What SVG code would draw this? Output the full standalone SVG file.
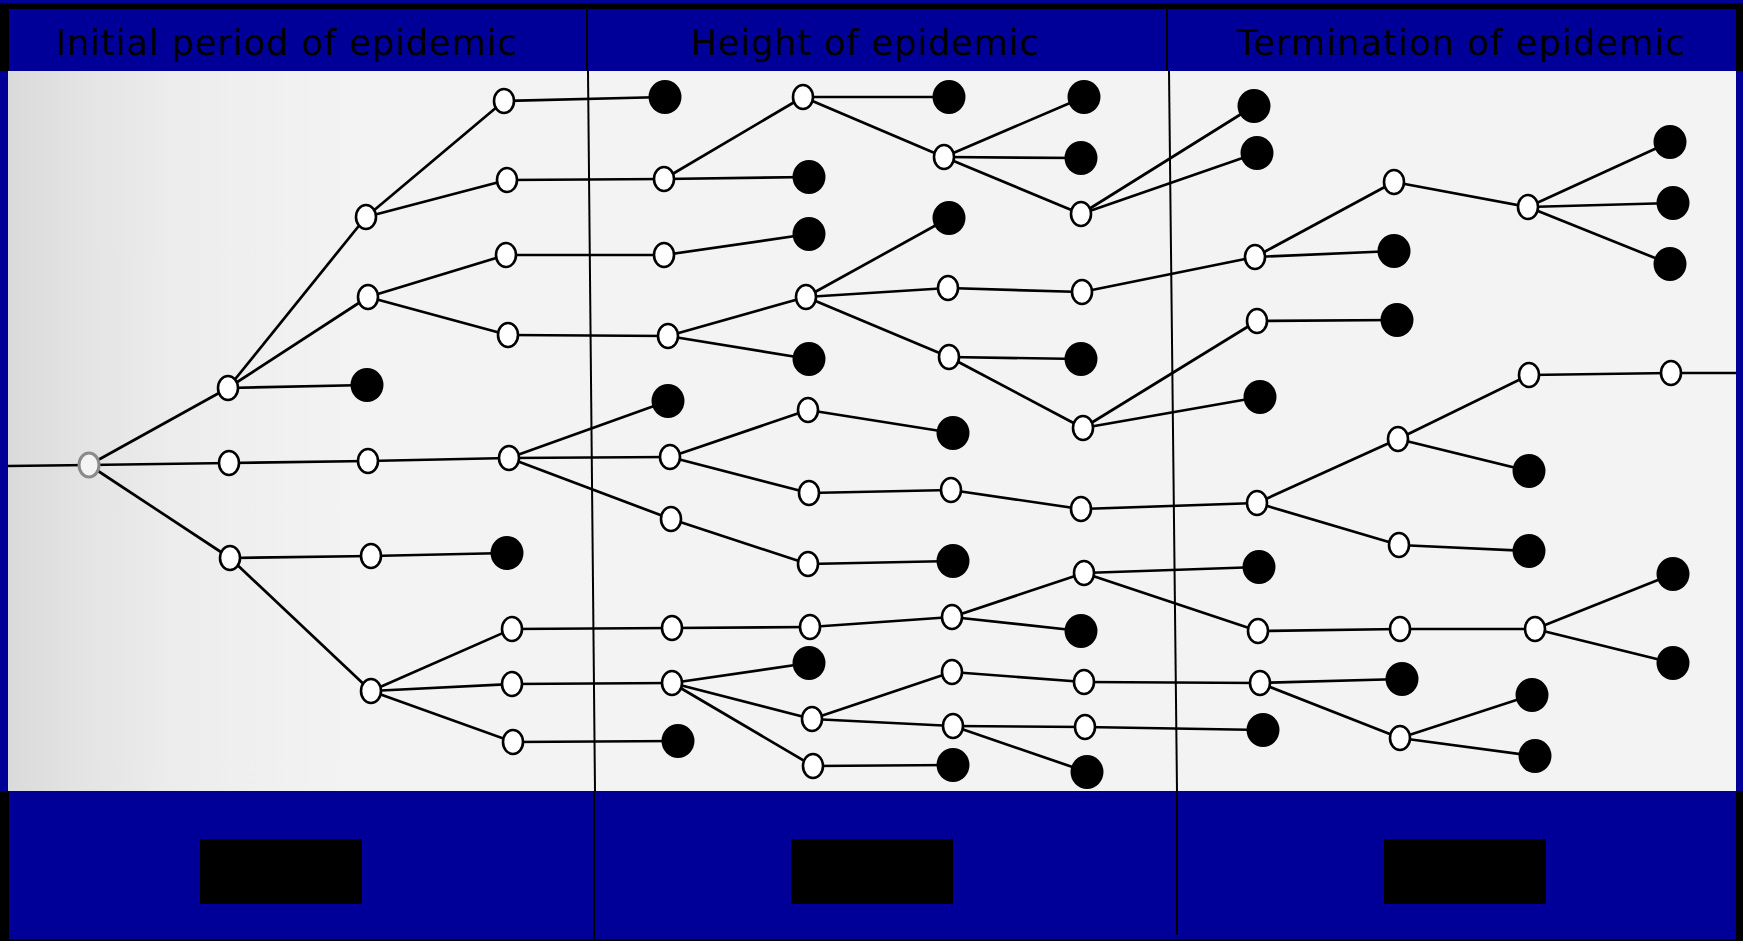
<svg xmlns="http://www.w3.org/2000/svg" width="1743" height="941" viewBox="0 0 1743 941">
<defs>
<linearGradient id="paper" x1="0" y1="0" x2="1" y2="0">
<stop offset="0" stop-color="#dadada"/>
<stop offset="0.04" stop-color="#e3e3e3"/>
<stop offset="0.1" stop-color="#ededed"/>
<stop offset="0.2" stop-color="#f3f3f3"/>
<stop offset="1" stop-color="#f3f3f3"/>
</linearGradient>
<style>
.o{fill:#fff;stroke:#000;stroke-width:2.6}
.r{fill:#f4f4f4;stroke:#8a8a8a;stroke-width:3}
.f{fill:#000}
.c line{stroke:#000;stroke-width:2.7}
.div{stroke:#000;stroke-width:2}
.t{font-family:"DejaVu Sans",Verdana,sans-serif;font-size:35px;fill:#000}
</style>
</defs>
<rect x="0" y="0" width="1743" height="941" fill="#000"/>
<rect x="0" y="0" width="1743" height="3" fill="#000099"/>
<rect x="9" y="9" width="1727" height="62" fill="#000099"/>
<rect x="0" y="71" width="8" height="720" fill="#000099"/>
<rect x="1736" y="71" width="7" height="720" fill="#000099"/>
<rect x="8" y="71" width="1728" height="720" fill="url(#paper)"/>
<rect x="9" y="791" width="1727" height="148" fill="#000099"/>
<g id="header-dividers">
<line class="div" x1="587" y1="9" x2="587" y2="71"/>
<line class="div" x1="1167" y1="9" x2="1167" y2="71"/>
</g>
<g id="bottom-dividers">
<line class="div" x1="594" y1="791" x2="594" y2="939"/>
<line class="div" x1="1177" y1="791" x2="1177" y2="935"/>
</g>
<g id="content-dividers">
<line class="div" x1="588" y1="71" x2="595" y2="791"/>
<line class="div" x1="1169" y1="71" x2="1177" y2="791"/>
</g>
<g id="titles">
<text class="t" x="56" y="55" textLength="461">Initial period of epidemic</text>
<text class="t" x="691" y="55" textLength="348">Height of epidemic</text>
<text class="t" x="1237" y="55" textLength="448">Termination of epidemic</text>
</g>
<g id="bottom-boxes">
<rect x="200" y="839" width="162" height="65" fill="#000"/>
<rect x="791" y="839" width="162" height="65" fill="#000"/>
<rect x="1384" y="839" width="162" height="65" fill="#000"/>
</g>
<g id="connectors" class="c">
<line x1="8" y1="466" x2="89" y2="465"/>
<line x1="89" y1="465" x2="228" y2="388"/>
<line x1="89" y1="465" x2="229" y2="463"/>
<line x1="89" y1="465" x2="230" y2="558"/>
<line x1="228" y1="388" x2="366" y2="217"/>
<line x1="228" y1="388" x2="368" y2="297"/>
<line x1="228" y1="388" x2="367" y2="385"/>
<line x1="366" y1="217" x2="504" y2="101"/>
<line x1="366" y1="217" x2="507" y2="180"/>
<line x1="368" y1="297" x2="506" y2="255"/>
<line x1="368" y1="297" x2="508" y2="335"/>
<line x1="229" y1="463" x2="368" y2="461"/>
<line x1="368" y1="461" x2="509" y2="458"/>
<line x1="230" y1="558" x2="371" y2="556"/>
<line x1="371" y1="556" x2="507" y2="553"/>
<line x1="230" y1="558" x2="371" y2="691"/>
<line x1="371" y1="691" x2="512" y2="629"/>
<line x1="371" y1="691" x2="512" y2="684"/>
<line x1="371" y1="691" x2="513" y2="742"/>
<line x1="504" y1="101" x2="665" y2="97"/>
<line x1="507" y1="180" x2="664" y2="179"/>
<line x1="506" y1="255" x2="664" y2="255"/>
<line x1="508" y1="335" x2="668" y2="336"/>
<line x1="509" y1="458" x2="668" y2="401"/>
<line x1="509" y1="458" x2="670" y2="457"/>
<line x1="509" y1="458" x2="671" y2="519"/>
<line x1="512" y1="629" x2="672" y2="628"/>
<line x1="512" y1="684" x2="672" y2="683"/>
<line x1="513" y1="742" x2="678" y2="741"/>
<line x1="664" y1="179" x2="803" y2="97"/>
<line x1="664" y1="179" x2="809" y2="177"/>
<line x1="664" y1="255" x2="809" y2="234"/>
<line x1="668" y1="336" x2="806" y2="297"/>
<line x1="668" y1="336" x2="809" y2="359"/>
<line x1="670" y1="457" x2="808" y2="410"/>
<line x1="670" y1="457" x2="809" y2="493"/>
<line x1="671" y1="519" x2="808" y2="564"/>
<line x1="672" y1="628" x2="810" y2="627"/>
<line x1="672" y1="683" x2="809" y2="663"/>
<line x1="672" y1="683" x2="812" y2="719"/>
<line x1="672" y1="683" x2="813" y2="766"/>
<line x1="803" y1="97" x2="949" y2="97"/>
<line x1="803" y1="97" x2="944" y2="157"/>
<line x1="806" y1="297" x2="949" y2="218"/>
<line x1="806" y1="297" x2="948" y2="288"/>
<line x1="806" y1="297" x2="949" y2="357"/>
<line x1="808" y1="410" x2="953" y2="433"/>
<line x1="809" y1="493" x2="951" y2="490"/>
<line x1="808" y1="564" x2="953" y2="561"/>
<line x1="810" y1="627" x2="952" y2="617"/>
<line x1="812" y1="719" x2="952" y2="672"/>
<line x1="812" y1="719" x2="953" y2="726"/>
<line x1="813" y1="766" x2="953" y2="765"/>
<line x1="944" y1="157" x2="1084" y2="97"/>
<line x1="944" y1="157" x2="1081" y2="158"/>
<line x1="944" y1="157" x2="1081" y2="214"/>
<line x1="948" y1="288" x2="1082" y2="292"/>
<line x1="949" y1="357" x2="1081" y2="359"/>
<line x1="949" y1="357" x2="1083" y2="428"/>
<line x1="951" y1="490" x2="1081" y2="509"/>
<line x1="952" y1="617" x2="1084" y2="573"/>
<line x1="952" y1="617" x2="1081" y2="631"/>
<line x1="952" y1="672" x2="1084" y2="682"/>
<line x1="953" y1="726" x2="1085" y2="727"/>
<line x1="953" y1="726" x2="1087" y2="772"/>
<line x1="1081" y1="214" x2="1254" y2="106"/>
<line x1="1081" y1="214" x2="1257" y2="153"/>
<line x1="1082" y1="292" x2="1255" y2="257"/>
<line x1="1083" y1="428" x2="1257" y2="321"/>
<line x1="1083" y1="428" x2="1260" y2="397"/>
<line x1="1081" y1="509" x2="1257" y2="503"/>
<line x1="1084" y1="573" x2="1259" y2="567"/>
<line x1="1084" y1="573" x2="1258" y2="631"/>
<line x1="1084" y1="682" x2="1260" y2="683"/>
<line x1="1085" y1="727" x2="1263" y2="730"/>
<line x1="1255" y1="257" x2="1394" y2="182"/>
<line x1="1255" y1="257" x2="1394" y2="251"/>
<line x1="1257" y1="321" x2="1397" y2="320"/>
<line x1="1257" y1="503" x2="1398" y2="439"/>
<line x1="1257" y1="503" x2="1399" y2="545"/>
<line x1="1258" y1="631" x2="1400" y2="629"/>
<line x1="1260" y1="683" x2="1402" y2="679"/>
<line x1="1260" y1="683" x2="1400" y2="738"/>
<line x1="1394" y1="182" x2="1528" y2="207"/>
<line x1="1398" y1="439" x2="1529" y2="375"/>
<line x1="1398" y1="439" x2="1529" y2="471"/>
<line x1="1399" y1="545" x2="1529" y2="551"/>
<line x1="1400" y1="629" x2="1535" y2="629"/>
<line x1="1400" y1="738" x2="1532" y2="695"/>
<line x1="1400" y1="738" x2="1535" y2="756"/>
<line x1="1528" y1="207" x2="1670" y2="142"/>
<line x1="1528" y1="207" x2="1673" y2="203"/>
<line x1="1528" y1="207" x2="1670" y2="264"/>
<line x1="1529" y1="375" x2="1671" y2="373"/>
<line x1="1671" y1="373" x2="1736" y2="373"/>
<line x1="1535" y1="629" x2="1673" y2="574"/>
<line x1="1535" y1="629" x2="1673" y2="663"/>
</g>
<g id="n-root"><ellipse class="r" cx="89" cy="465" rx="10" ry="12"/></g>
<g id="n-B1"><ellipse class="o" cx="366" cy="217" rx="10" ry="12"/></g>
<g id="n-B2"><ellipse class="o" cx="368" cy="297" rx="10" ry="12"/></g>
<g id="n-B3"><ellipse class="o" cx="228" cy="388" rx="10" ry="12"/></g>
<g id="n-f1"><ellipse class="f" cx="367" cy="385" rx="16.5" ry="17"/></g>
<g id="n-C2"><ellipse class="o" cx="229" cy="463" rx="10" ry="12"/></g>
<g id="n-C3"><ellipse class="o" cx="368" cy="461" rx="10" ry="12"/></g>
<g id="n-C4"><ellipse class="o" cx="509" cy="458" rx="10" ry="12"/></g>
<g id="n-D1"><ellipse class="o" cx="230" cy="558" rx="10" ry="12"/></g>
<g id="n-D2"><ellipse class="o" cx="371" cy="556" rx="10" ry="12"/></g>
<g id="n-f2"><ellipse class="f" cx="507" cy="553" rx="16.5" ry="17"/></g>
<g id="n-E"><ellipse class="o" cx="371" cy="691" rx="10" ry="12"/></g>
<g id="n-E1"><ellipse class="o" cx="512" cy="629" rx="10" ry="12"/></g>
<g id="n-E2"><ellipse class="o" cx="512" cy="684" rx="10" ry="12"/></g>
<g id="n-E3"><ellipse class="o" cx="513" cy="742" rx="10" ry="12"/></g>
<g id="n-A1"><ellipse class="o" cx="504" cy="101" rx="10" ry="12"/></g>
<g id="n-A2"><ellipse class="o" cx="507" cy="180" rx="10" ry="12"/></g>
<g id="n-A3"><ellipse class="o" cx="506" cy="255" rx="10" ry="12"/></g>
<g id="n-A4"><ellipse class="o" cx="508" cy="335" rx="10" ry="12"/></g>
<g id="n-f3"><ellipse class="f" cx="665" cy="97" rx="16.5" ry="17"/></g>
<g id="n-G1"><ellipse class="o" cx="664" cy="179" rx="10" ry="12"/></g>
<g id="n-G2"><ellipse class="o" cx="664" cy="255" rx="10" ry="12"/></g>
<g id="n-G3"><ellipse class="o" cx="668" cy="336" rx="10" ry="12"/></g>
<g id="n-f4"><ellipse class="f" cx="668" cy="401" rx="16.5" ry="17"/></g>
<g id="n-M1"><ellipse class="o" cx="670" cy="457" rx="10" ry="12"/></g>
<g id="n-M2"><ellipse class="o" cx="671" cy="519" rx="10" ry="12"/></g>
<g id="n-S1"><ellipse class="o" cx="672" cy="628" rx="10" ry="12"/></g>
<g id="n-T1"><ellipse class="o" cx="672" cy="683" rx="10" ry="12"/></g>
<g id="n-f5"><ellipse class="f" cx="678" cy="741" rx="16.5" ry="17"/></g>
<g id="n-F1"><ellipse class="o" cx="803" cy="97" rx="10" ry="12"/></g>
<g id="n-f6"><ellipse class="f" cx="809" cy="177" rx="16.5" ry="17"/></g>
<g id="n-f7"><ellipse class="f" cx="809" cy="234" rx="16.5" ry="17"/></g>
<g id="n-H1"><ellipse class="o" cx="806" cy="297" rx="10" ry="12"/></g>
<g id="n-f8"><ellipse class="f" cx="809" cy="359" rx="16.5" ry="17"/></g>
<g id="n-N1"><ellipse class="o" cx="808" cy="410" rx="10" ry="12"/></g>
<g id="n-N2"><ellipse class="o" cx="809" cy="493" rx="10" ry="12"/></g>
<g id="n-N5"><ellipse class="o" cx="808" cy="564" rx="10" ry="12"/></g>
<g id="n-S2"><ellipse class="o" cx="810" cy="627" rx="10" ry="12"/></g>
<g id="n-f9"><ellipse class="f" cx="809" cy="663" rx="16.5" ry="17"/></g>
<g id="n-T2"><ellipse class="o" cx="812" cy="719" rx="10" ry="12"/></g>
<g id="n-T7"><ellipse class="o" cx="813" cy="766" rx="10" ry="12"/></g>
<g id="n-f10"><ellipse class="f" cx="949" cy="97" rx="16.5" ry="17"/></g>
<g id="n-F2"><ellipse class="o" cx="944" cy="157" rx="10" ry="12"/></g>
<g id="n-f11"><ellipse class="f" cx="949" cy="218" rx="16.5" ry="17"/></g>
<g id="n-H2"><ellipse class="o" cx="948" cy="288" rx="10" ry="12"/></g>
<g id="n-H4"><ellipse class="o" cx="949" cy="357" rx="10" ry="12"/></g>
<g id="n-f12"><ellipse class="f" cx="953" cy="433" rx="16.5" ry="17"/></g>
<g id="n-N3"><ellipse class="o" cx="951" cy="490" rx="10" ry="12"/></g>
<g id="n-f13"><ellipse class="f" cx="953" cy="561" rx="16.5" ry="17"/></g>
<g id="n-S3"><ellipse class="o" cx="952" cy="617" rx="10" ry="12"/></g>
<g id="n-T3"><ellipse class="o" cx="952" cy="672" rx="10" ry="12"/></g>
<g id="n-T5"><ellipse class="o" cx="953" cy="726" rx="10" ry="12"/></g>
<g id="n-f14"><ellipse class="f" cx="953" cy="765" rx="16.5" ry="17"/></g>
<g id="n-f15"><ellipse class="f" cx="1084" cy="97" rx="16.5" ry="17"/></g>
<g id="n-f16"><ellipse class="f" cx="1081" cy="158" rx="16.5" ry="17"/></g>
<g id="n-F3"><ellipse class="o" cx="1081" cy="214" rx="10" ry="12"/></g>
<g id="n-H3"><ellipse class="o" cx="1082" cy="292" rx="10" ry="12"/></g>
<g id="n-f17"><ellipse class="f" cx="1081" cy="359" rx="16.5" ry="17"/></g>
<g id="n-L1"><ellipse class="o" cx="1083" cy="428" rx="10" ry="12"/></g>
<g id="n-N4"><ellipse class="o" cx="1081" cy="509" rx="10" ry="12"/></g>
<g id="n-P1"><ellipse class="o" cx="1084" cy="573" rx="10" ry="12"/></g>
<g id="n-f18"><ellipse class="f" cx="1081" cy="631" rx="16.5" ry="17"/></g>
<g id="n-T4"><ellipse class="o" cx="1084" cy="682" rx="10" ry="12"/></g>
<g id="n-T6"><ellipse class="o" cx="1085" cy="727" rx="10" ry="12"/></g>
<g id="n-f19"><ellipse class="f" cx="1087" cy="772" rx="16.5" ry="17"/></g>
<g id="n-f20"><ellipse class="f" cx="1254" cy="106" rx="16.5" ry="17"/></g>
<g id="n-f21"><ellipse class="f" cx="1257" cy="153" rx="16.5" ry="17"/></g>
<g id="n-K1"><ellipse class="o" cx="1255" cy="257" rx="10" ry="12"/></g>
<g id="n-K2"><ellipse class="o" cx="1257" cy="321" rx="10" ry="12"/></g>
<g id="n-f22"><ellipse class="f" cx="1260" cy="397" rx="16.5" ry="17"/></g>
<g id="n-Q1"><ellipse class="o" cx="1257" cy="503" rx="10" ry="12"/></g>
<g id="n-f23"><ellipse class="f" cx="1259" cy="567" rx="16.5" ry="17"/></g>
<g id="n-U1"><ellipse class="o" cx="1258" cy="631" rx="10" ry="12"/></g>
<g id="n-V1"><ellipse class="o" cx="1260" cy="683" rx="10" ry="12"/></g>
<g id="n-f24"><ellipse class="f" cx="1263" cy="730" rx="16.5" ry="17"/></g>
<g id="n-J1"><ellipse class="o" cx="1394" cy="182" rx="10" ry="12"/></g>
<g id="n-f25"><ellipse class="f" cx="1394" cy="251" rx="16.5" ry="17"/></g>
<g id="n-f26"><ellipse class="f" cx="1397" cy="320" rx="16.5" ry="17"/></g>
<g id="n-R2"><ellipse class="o" cx="1398" cy="439" rx="10" ry="12"/></g>
<g id="n-R5"><ellipse class="o" cx="1399" cy="545" rx="10" ry="12"/></g>
<g id="n-U2"><ellipse class="o" cx="1400" cy="629" rx="10" ry="12"/></g>
<g id="n-f27"><ellipse class="f" cx="1402" cy="679" rx="16.5" ry="17"/></g>
<g id="n-V2"><ellipse class="o" cx="1400" cy="738" rx="10" ry="12"/></g>
<g id="n-J2"><ellipse class="o" cx="1528" cy="207" rx="10" ry="12"/></g>
<g id="n-R3"><ellipse class="o" cx="1529" cy="375" rx="10" ry="12"/></g>
<g id="n-f28"><ellipse class="f" cx="1529" cy="471" rx="16.5" ry="17"/></g>
<g id="n-f29"><ellipse class="f" cx="1529" cy="551" rx="16.5" ry="17"/></g>
<g id="n-U3"><ellipse class="o" cx="1535" cy="629" rx="10" ry="12"/></g>
<g id="n-f30"><ellipse class="f" cx="1532" cy="695" rx="16.5" ry="17"/></g>
<g id="n-f31"><ellipse class="f" cx="1535" cy="756" rx="16.5" ry="17"/></g>
<g id="n-f32"><ellipse class="f" cx="1670" cy="142" rx="16.5" ry="17"/></g>
<g id="n-f33"><ellipse class="f" cx="1673" cy="203" rx="16.5" ry="17"/></g>
<g id="n-f34"><ellipse class="f" cx="1670" cy="264" rx="16.5" ry="17"/></g>
<g id="n-R4"><ellipse class="o" cx="1671" cy="373" rx="10" ry="12"/></g>
<g id="n-f35"><ellipse class="f" cx="1673" cy="574" rx="16.5" ry="17"/></g>
<g id="n-f36"><ellipse class="f" cx="1673" cy="663" rx="16.5" ry="17"/></g>
</svg>
